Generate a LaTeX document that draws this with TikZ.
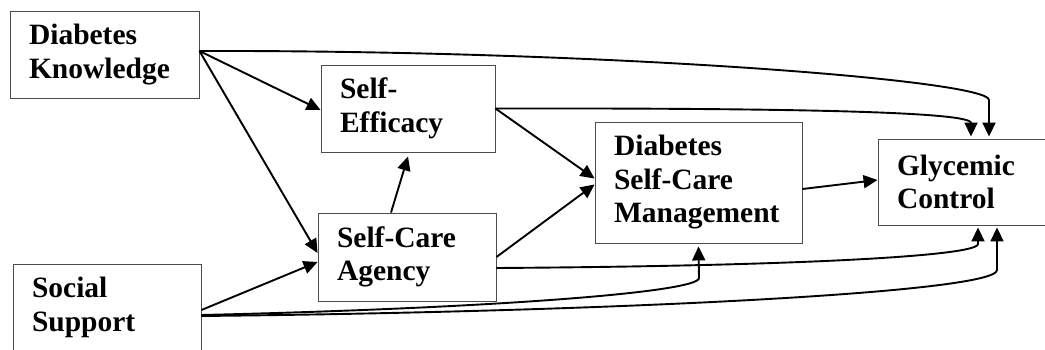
\documentclass[tikz,border=0pt]{standalone}
\usepackage{fontspec}
\setmainfont{Liberation Serif}
\usetikzlibrary{arrows.meta,calc}
\begin{document}
\begin{tikzpicture}[x=1pt,y=-1pt,
  box/.style={draw=black!70, line width=0.9pt, align=left, inner xsep=19pt, inner ysep=0pt,
    font=\fontsize{29.5}{33.5}\selectfont\bfseries, anchor=center},
  conn/.style={line width=1.9pt, -{Triangle[length=14pt,width=13pt]}}]
\useasboundingbox (0,0) rectangle (1045,350);
\clip (0,0) rectangle (1045,350);
\node[box, minimum width=189pt, minimum height=87pt, text width=151pt] (dk) at (104.5,54.5) {Diabetes\\Knowledge};
\node[box, minimum width=174pt, minimum height=87pt, text width=136pt] (se) at (408,108.5) {Self-\\Efficacy};
\node[box, minimum width=178pt, minimum height=88pt, text width=140pt] (sca) at (407,257) {Self-Care\\Agency};
\node[box, minimum width=188pt, minimum height=87pt, text width=150pt] (ss) at (107,307.5) {Social\\Support};
\node[box, minimum width=207pt, minimum height=121pt, text width=169pt] (dscm) at (698.5,182.5) {Diabetes\\Self-Care\\Management};
\node[box, minimum width=185pt, minimum height=86pt, text width=147pt] (gc) at (970.5,182) {Glycemic\\Control};
% connectors
\draw[conn] ([yshift=3.5pt]dk.east) -- ([yshift=-1.5pt]se.west);
\draw[conn] ([yshift=3.5pt]dk.east) -- ([yshift=4pt]sca.west);
\draw[conn] ([yshift=3.5pt]dk.east) .. controls (600,50) and (989,80) .. (989,100) -- ([xshift=18.5pt,yshift=2pt]gc.north);
\draw[conn] (se.east) .. controls (800,108) and (971,112) .. (971,123) -- ([xshift=0.5pt,yshift=2pt]gc.north);
\draw[conn] (se.east) -- ([yshift=4pt]dscm.west);
\draw[conn] ([xshift=-16pt]sca.north) -- ([yshift=-4pt]se.south);
\draw[conn] (sca.east) -- ([yshift=-2pt]dscm.west);
\draw[conn] ([yshift=-2.5pt]ss.east) -- ([yshift=-5pt]sca.west);
\draw[conn] ([yshift=-11pt]sca.east) .. controls (800,266) and (978,256) .. (978,244) -- ([xshift=7.5pt,yshift=-2pt]gc.south);
\draw[conn] ([yshift=-7.5pt]ss.east) .. controls (500,308) and (699,292) .. (699,278) -- ([yshift=-3pt]dscm.south);
\draw[conn] ([yshift=-8.5pt]ss.east) .. controls (600,312) and (997,293) .. (997,270) -- ([xshift=26.5pt,yshift=-2pt]gc.south);
\draw[conn] ([yshift=-6.5pt]dscm.east) -- ([yshift=2pt]gc.west);
\end{tikzpicture}
\end{document}
